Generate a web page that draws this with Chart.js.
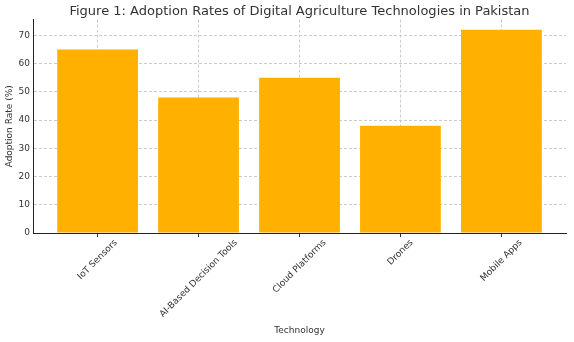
<!DOCTYPE html>
<html>
<head>
<meta charset="utf-8">
<script src="https://cdn.jsdelivr.net/npm/chart.js@4.4.1/dist/chart.umd.min.js"></script>
<style>
html, body { margin: 0; padding: 0; background: #fff; }
#wrap { width: 574px; height: 342px; }
</style>
</head>
<body>
<div id="wrap"><canvas id="adoption-chart" width="574" height="342"></canvas></div>
<script>
// Get Elements
let adoptionChart = document.getElementById("adoption-chart").getContext("2d");

/* ==============================
Declare data for bar chart
=================================*/
let labelTechnologies = [
	"IoT Sensors",
	"AI-Based Decision Tools",
	"Cloud Platforms",
	"Drones",
	"Mobile Apps"
];
let dataAdoption = [65, 48, 55, 38, 72];
let tickAdoption = [0, 10, 20, 30, 40, 50, 60, 70];

let fontFamily = "'DejaVu Sans', sans-serif";
let textColor = "#333333";
let gridColor = "#cccccc";

// rotated category names, centred under the tick like matplotlib does
const rotatedLabels = {
	id: "rotatedLabels",
	afterDraw(chart) {
		const ctx = chart.ctx;
		const xScale = chart.scales.x;
		const top = xScale.top + 5;
		ctx.save();
		ctx.font = "9px " + fontFamily;
		ctx.fillStyle = textColor;
		ctx.textAlign = "center";
		ctx.textBaseline = "middle";
		labelTechnologies.forEach((label, i) => {
			const w = ctx.measureText(label).width;
			const half = (w + 9) * Math.SQRT1_2 / 2;
			ctx.save();
			ctx.translate(xScale.getPixelForValue(i), top + half);
			ctx.rotate(-Math.PI / 4);
			ctx.fillText(label, 0, 0);
			ctx.restore();
		});
		ctx.restore();
	}
};

Chart.defaults.font.family = fontFamily;
Chart.defaults.color = textColor;

// Display chart
var myBarChart = new Chart(adoptionChart, {
	type: "bar",
	data: {
		datasets: [
			{
				data: dataAdoption.map((v, i) => ({ x: i, y: v })),
				backgroundColor: "#ffb000",
				borderWidth: 0,
				categoryPercentage: 1,
				barPercentage: 0.8
			}
		]
	},
	options: {
		responsive: false,
		animation: false,
		layout: {
			padding: { left: 0, right: 8, top: 4, bottom: 4 }
		},
		plugins: {
			legend: { display: false },
			tooltip: { enabled: false },
			title: {
				display: true,
				fullSize: false,
				text: "Figure 1: Adoption Rates of Digital Agriculture Technologies in Pakistan",
				font: { size: 13, weight: "normal" },
				color: textColor,
				padding: { top: 0, bottom: 0 }
			}
		},
		scales: {
			x: {
				type: "linear",
				min: -0.64,
				max: 4.64,
				offset: false,
				afterBuildTicks: s => {
					s.ticks = labelTechnologies.map((l, i) => ({ value: i }));
				},
				afterFit: s => {
					s.height = 105;
				},
				ticks: { display: false },
				grid: {
					offset: false,
					color: gridColor,
					drawTicks: true,
					tickLength: 4,
					tickColor: "#333333",
					tickBorderDash: []
				},
				border: { color: "#222222", width: 1, dash: [3, 2] },
				title: {
					display: true,
					text: "Technology",
					font: { size: 9 },
					padding: { top: 0, bottom: 2 }
				}
			},
			y: {
				min: 0,
				max: 75.6,
				afterBuildTicks: s => {
					s.ticks = tickAdoption.map(v => ({ value: v }));
				},
				afterFit: s => {
					s.width = 33;
				},
				ticks: { font: { size: 9 }, padding: 3 },
				grid: { color: gridColor, drawTicks: false },
				border: { color: "#222222", width: 1, dash: [3, 2] },
				title: {
					display: true,
					text: "Adoption Rate (%)",
					font: { size: 9 },
					padding: { top: 4, bottom: 0 }
				}
			}
		}
	},
	plugins: [rotatedLabels]
});
</script>
</body>
</html>
